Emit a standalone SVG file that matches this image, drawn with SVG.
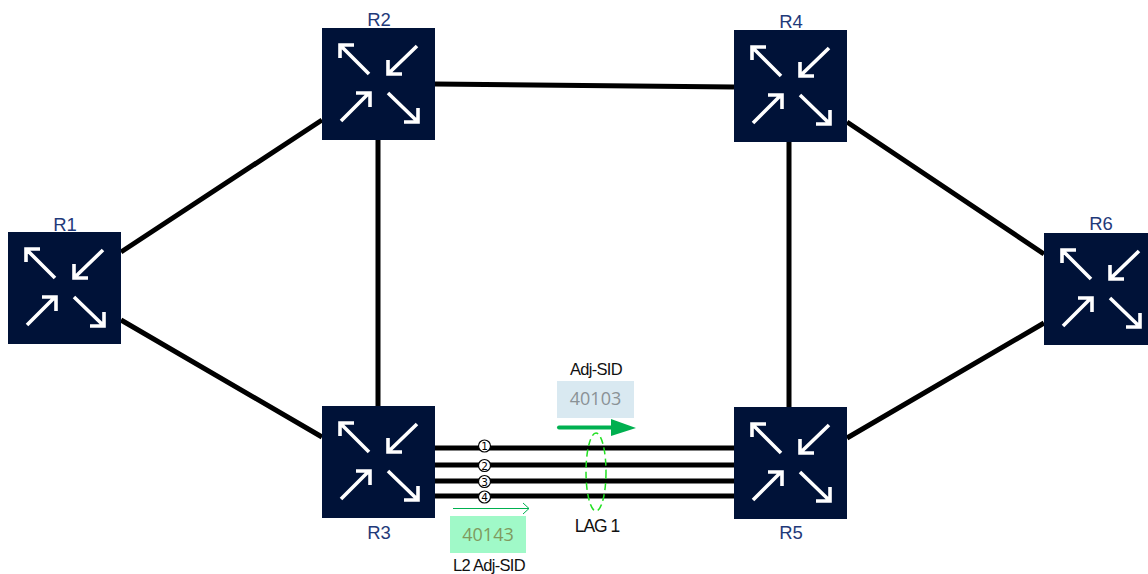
<svg xmlns="http://www.w3.org/2000/svg" width="1148" height="574" viewBox="0 0 1148 574">
<style>
.l{font-family:"Liberation Sans",Arial,sans-serif;font-size:18.5px;fill:#1f3a7a;text-anchor:middle}
.t{font-family:"Liberation Sans",Arial,sans-serif;font-size:16.500px;fill:#111;text-anchor:middle;letter-spacing:-.7px}
.c{fill:none;stroke:#000;stroke-width:5}
.n{fill:#001238}
.a{fill:none;stroke:#fff;stroke-width:3.6}
.num{font-family:"DejaVu Sans",sans-serif;font-size:10.500px;fill:#000;text-anchor:middle}
</style>
<defs>
<g id="router">
<rect class="n" width="113" height="112"/>
<path class="a" d="M47 46L18 17M18 30V17H32M95 18L66 46M66 32V46H80M19 93L47 65M34 65H48V79M66 65L96 94M82 94H96V80"/>
</g>
</defs>
<rect width="1148" height="574" fill="#fff"/>
<g id="connectors">
<path class="c" d="M121 252L322 120M121 320L322 437M378 140V406M435 84L734 87M789 142V407M847 122L1044 254M847 438L1044 323"/>
<path class="c" d="M435 448H734M435 465H734M435 481H734M435 496H734"/>
</g>
<g id="R1"><use href="#router" x="8" y="232"/><text class="l" x="65" y="231">R1</text></g>
<g id="R2"><use href="#router" x="322" y="28"/><text class="l" x="379" y="26">R2</text></g>
<g id="R3"><use href="#router" x="322" y="406"/><text class="l" x="379" y="539">R3</text></g>
<g id="R4"><use href="#router" x="734" y="30"/><text class="l" x="791" y="28">R4</text></g>
<g id="R5"><use href="#router" x="734" y="407"/><text class="l" x="791" y="539">R5</text></g>
<g id="R6"><use href="#router" x="1044" y="233"/><text class="l" x="1101" y="230">R6</text></g>
<g id="members">
<g fill="#fff" stroke="#000" stroke-width="1.200"><circle cx="484.500" cy="446" r="6"/><circle cx="484.500" cy="465.500" r="6"/><circle cx="484.500" cy="481.500" r="6"/><circle cx="484.500" cy="497" r="6"/></g>
<text class="num" x="484.500" y="450">1</text><text class="num" x="484.500" y="469.500">2</text><text class="num" x="484.500" y="485.500">3</text><text class="num" x="484.500" y="501">4</text>
</g>
<g id="adj-sid">
<text class="t" x="596" y="375">Adj-SID</text>
<rect x="557" y="381" width="77" height="37" fill="#d9e9f1"/>
<text x="595.500" y="405" font-family="'Open Sans','Liberation Sans',sans-serif" font-size="18" fill="#8a9296" text-anchor="middle">40103</text>
<path d="M559 427.500H612" stroke="#00b050" stroke-width="4" stroke-linecap="round" fill="none"/>
<path d="M611 419L636 428L611 436Z" fill="#00b050"/>
</g>
<g id="lag"><ellipse cx="596" cy="472" rx="10" ry="39" fill="none" stroke="#22e022" stroke-width="1.500" stroke-dasharray="7 4"/>
<text x="597" y="532" font-family="'Liberation Sans',sans-serif" font-size="17.500" fill="#111" text-anchor="middle" letter-spacing="-1">LAG 1</text></g>
<g id="l2-adj-sid">
<path d="M453 508.500H529M523 503L529 508.500L523 514" fill="none" stroke="#00b050" stroke-width="1"/>
<rect x="450" y="516" width="76" height="37" fill="#a0f9c8"/>
<text x="488" y="541" font-family="'Open Sans','Liberation Sans',sans-serif" font-size="18" fill="#7f9a5e" text-anchor="middle">40143</text>
<text class="t" x="489" y="571">L2 Adj-SID</text>
</g>
</svg>
